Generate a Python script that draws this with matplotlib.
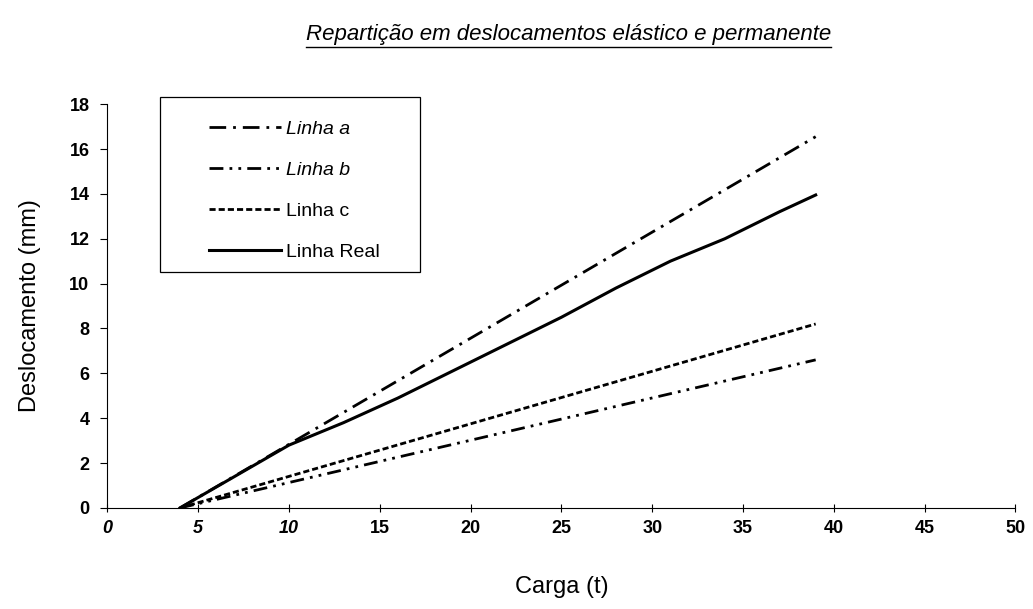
import matplotlib
matplotlib.use('Agg')
import matplotlib.pyplot as plt
from matplotlib.lines import Line2D
from matplotlib.patches import Rectangle

# Data
carga_real = [4, 7, 10, 13, 16, 19, 22, 25, 28, 31, 34, 37, 39]
desl_real = [0, 1.4, 2.8, 3.8, 4.9, 6.1, 7.3, 8.5, 9.8, 11.0, 12.0, 13.2, 13.95]

carga_a = [4, 39]
desl_a = [0, 16.55]

carga_b = [4, 39]
desl_b = [0, 6.6]

carga_c = [4, 39]
desl_c = [0, 8.2]

x_ticks = [0, 5, 10, 15, 20, 25, 30, 35, 40, 45, 50]
y_ticks = [0, 2, 4, 6, 8, 10, 12, 14, 16, 18]

plt.rcParams['font.family'] = ['Liberation Sans', 'DejaVu Sans']

fig = plt.figure(figsize=(10.33, 6.09), dpi=100)
ax = fig.add_axes([0.104, 0.166, 0.879, 0.663])

ax.plot(carga_a, desl_a, color='black', lw=2.0, linestyle=(0, (6, 2.5, 1, 2.5)), label='Linha a')
ax.plot(carga_b, desl_b, color='black', lw=2.0, linestyle=(0, (5, 2.2, 1, 2.2, 1, 2.2)), label='Linha b')
ax.plot(carga_c, desl_c, color='black', lw=2.0, linestyle=(0, (2.2, 1.1)), label='Linha c')
ax.plot(carga_real, desl_real, color='black', lw=2.2, linestyle='-', label='Linha Real')

ax.set_xlim(0, 50)
ax.set_ylim(0, 18)
ax.set_xticks(x_ticks)
ax.set_yticks(y_ticks)
ax.set_xticklabels([str(v) for v in x_ticks], fontsize=13, fontweight='bold')
ax.set_yticklabels([str(v) for v in y_ticks], fontsize=13, fontweight='bold')
for lbl in ax.get_xticklabels()[:3]:
    lbl.set_fontstyle('italic')
ax.tick_params(axis='x', direction='inout', length=6, width=0.8, pad=6)
ax.tick_params(axis='y', direction='out', length=5, width=0.8, pad=8)

ax.spines['top'].set_visible(False)
ax.spines['right'].set_visible(False)
ax.spines['left'].set_linewidth(0.8)
ax.spines['bottom'].set_linewidth(0.8)

ax.set_ylabel('Deslocamento (mm)', fontsize=17, labelpad=20)
ax.set_xlabel('Carga (t)', fontsize=17, labelpad=28)

# legend box drawn separately, entries without frame
ax.add_patch(Rectangle((2.9, 10.5), 14.3, 7.8, fill=False, edgecolor='black',
                       lw=0.9, clip_on=False, zorder=3))
leg = ax.legend(loc='upper left', bbox_to_anchor=(0.087, 1.015), frameon=False,
                fontsize=14, handlelength=3.7, handletextpad=0.25,
                labelspacing=1.2, borderpad=0.65)
for t in leg.get_texts()[:2]:
    t.set_fontstyle('italic')

title = fig.text(0.55, 0.935, 'Repartição em deslocamentos elástico e permanente',
                 ha='center', va='baseline', fontsize=16, fontstyle='italic')

# underline the title
fig.canvas.draw()
bb = title.get_window_extent().transformed(fig.transFigure.inverted())
fig.add_artist(Line2D([bb.x0, bb.x1], [bb.y0 - 0.004, bb.y0 - 0.004],
                      transform=fig.transFigure, color='black', lw=1.0))

fig.savefig('out.png', dpi=100)
